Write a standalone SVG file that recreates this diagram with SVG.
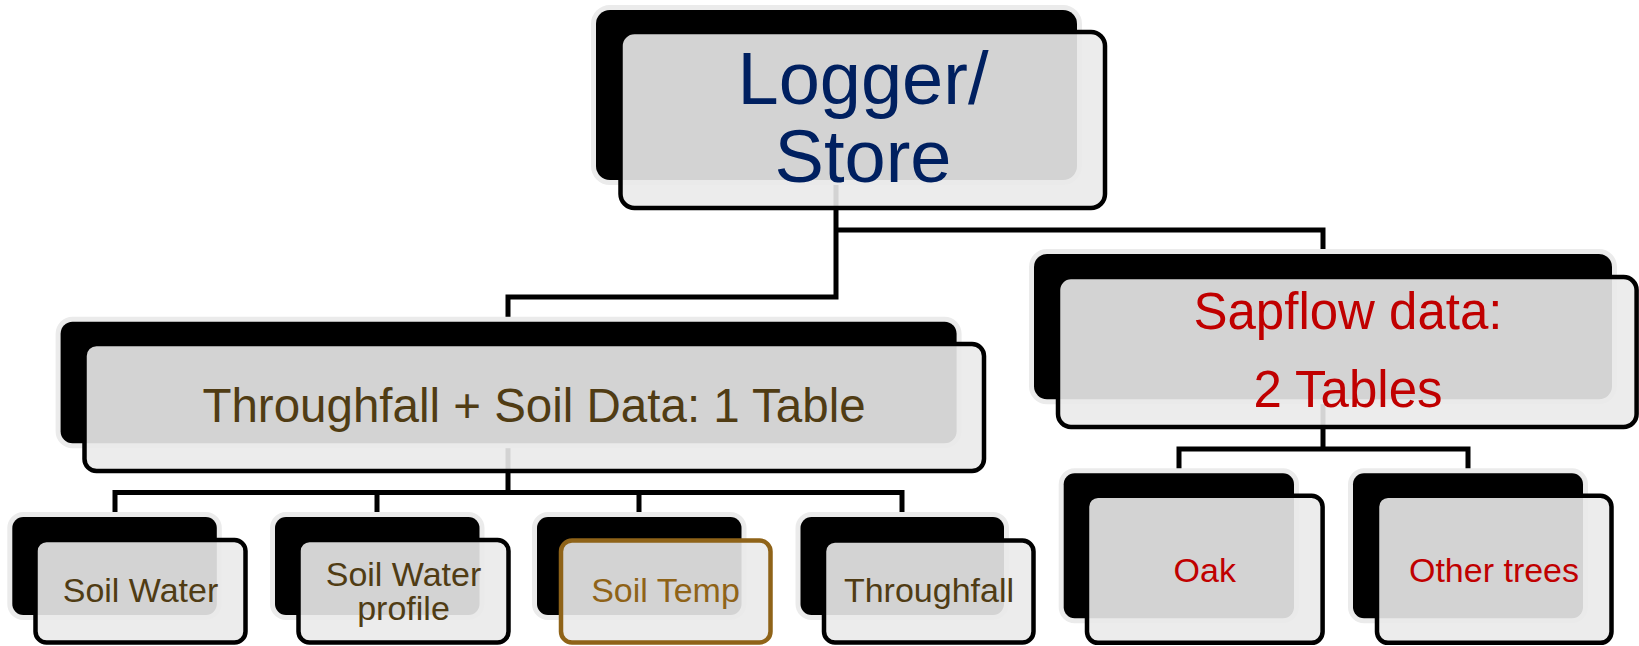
<svg xmlns="http://www.w3.org/2000/svg" width="1639" height="646" viewBox="0 0 1639 646">
<style>
.bk{fill:#000;stroke:#ebebeb;stroke-width:10;paint-order:stroke}
.fr{fill:#eaeaea;fill-opacity:0.9;stroke:#000;stroke-width:4.5}
.con{fill:none;stroke:#000;stroke-width:5}
text{font-family:"Liberation Sans",Arial,sans-serif;text-anchor:middle}
.brown{fill:#503c14}
.red{fill:#c00000}
.navy{fill:#002060}
</style>
<rect width="1639" height="646" fill="#fff"/>
<g id="connectors">
<path class="con" d="M836,180 V297 H508 V322"/>
<path class="con" d="M836,230 H1323 V254"/>
<path class="con" d="M508,443 V492.5"/>
<path class="con" d="M115,517 V492.5 H902 V517"/>
<path class="con" d="M377,492.5 V517"/>
<path class="con" d="M639,492.5 V517"/>
<path class="con" d="M1323,399 V449"/>
<path class="con" d="M1179,473 V449 H1468 V473"/>
</g>
<g id="logger">
<rect class="bk" x="596" y="10" width="481" height="170" rx="14"/>
<rect class="fr" x="620.5" y="32" width="484.5" height="176" rx="14"/>
<text class="navy" x="863" y="103.5" font-size="74">Logger/</text>
<text class="navy" x="863" y="181.5" font-size="74">Store</text>
</g>
<g id="throughfall-soil">
<rect class="bk" x="60.6" y="321.7" width="896" height="121.6" rx="12"/>
<rect class="fr" x="84.5" y="344" width="899.5" height="127" rx="12"/>
<text class="brown" x="534" y="421.7" font-size="47.5">Throughfall + Soil Data: 1 Table</text>
</g>
<g id="sapflow">
<rect class="bk" x="1034" y="254" width="578" height="145.3" rx="13"/>
<rect class="fr" x="1058" y="277" width="578.6" height="150" rx="13"/>
<text class="red" x="1348" y="329.3" font-size="51">Sapflow data:</text>
<text class="red" x="1348" y="406.7" font-size="51">2 Tables</text>
</g>
<g id="soil-water">
<rect class="bk" x="12.3" y="517" width="204.5" height="98" rx="11"/>
<rect class="fr" x="35.5" y="540" width="210" height="102.5" rx="11"/>
<text class="brown" x="140.5" y="601.7" font-size="34">Soil Water</text>
</g>
<g id="soil-water-profile">
<rect class="bk" x="275" y="517" width="204.5" height="98" rx="11"/>
<rect class="fr" x="298.5" y="540" width="210" height="102.5" rx="11"/>
<text class="brown" x="403.5" y="586" font-size="34">Soil Water</text>
<text class="brown" x="403.5" y="620" font-size="34">profile</text>
</g>
<g id="soil-temp">
<rect class="bk" x="537" y="517" width="204.5" height="98" rx="11"/>
<rect class="fr" x="561" y="540.5" width="209.5" height="102" rx="11" style="stroke:#8f6318"/>
<text x="665.5" y="601.7" font-size="34" fill="#8f6318">Soil Temp</text>
</g>
<g id="throughfall">
<rect class="bk" x="800.5" y="517" width="203.5" height="98" rx="11"/>
<rect class="fr" x="824" y="540.5" width="209.5" height="102" rx="11"/>
<text class="brown" x="929" y="601.7" font-size="34">Throughfall</text>
</g>
<g id="oak">
<rect class="bk" x="1063.7" y="473.3" width="230.3" height="145" rx="11"/>
<rect class="fr" x="1087" y="495.8" width="235.6" height="147" rx="11"/>
<text class="red" x="1204.8" y="581.7" font-size="34">Oak</text>
</g>
<g id="other-trees">
<rect class="bk" x="1353" y="473.3" width="230" height="145" rx="11"/>
<rect class="fr" x="1377" y="495.8" width="234.5" height="147" rx="11"/>
<text class="red" x="1494" y="581.7" font-size="34">Other trees</text>
</g>
</svg>
